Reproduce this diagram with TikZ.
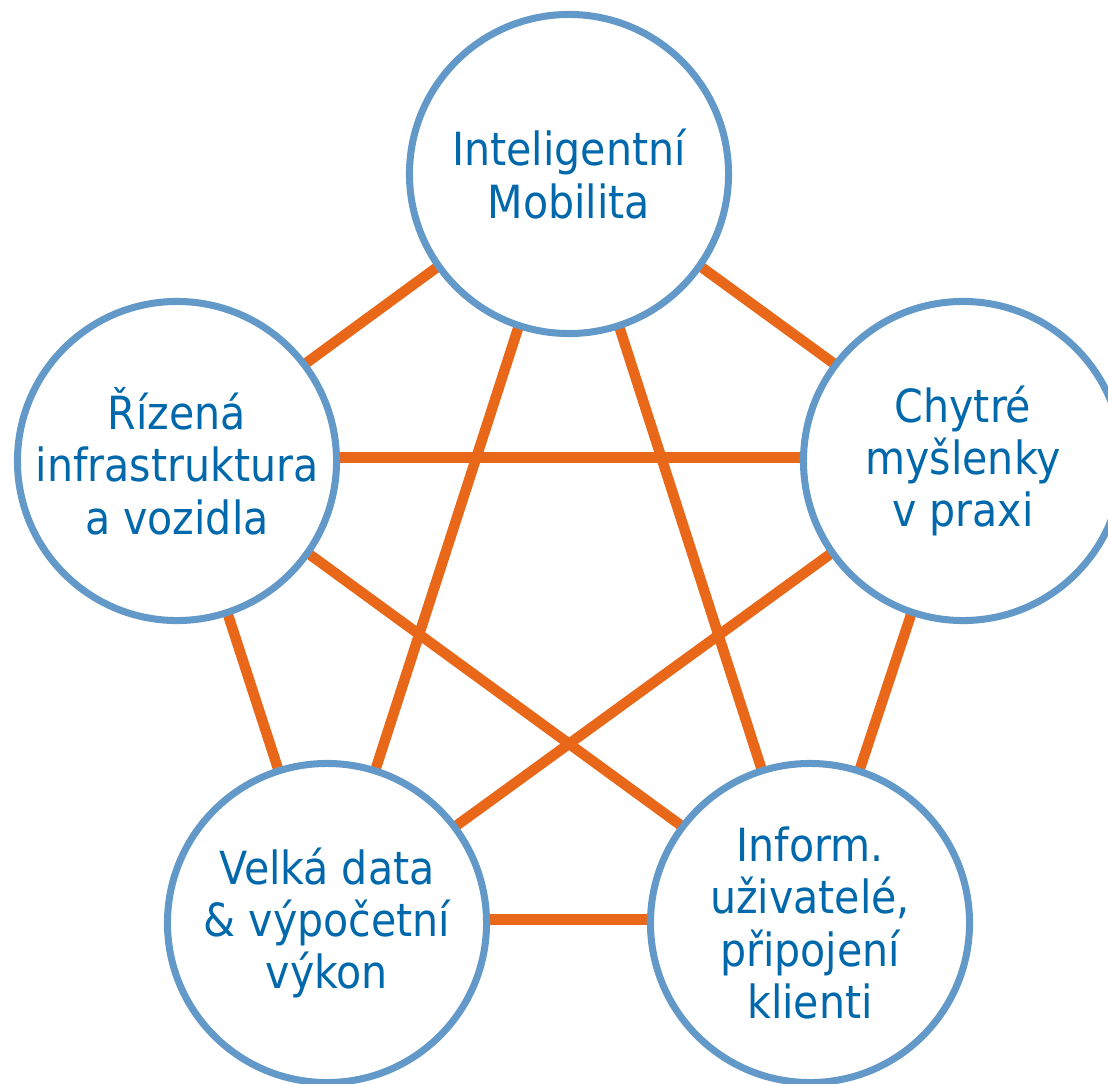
\documentclass[tikz,border=0pt]{standalone}
\usepackage{fontspec}
\setmainfont{DejaVu Sans Condensed}
\usetikzlibrary{backgrounds}
\definecolor{ringblue}{RGB}{99,153,200}
\definecolor{textblue}{RGB}{0,104,171}
\definecolor{linkorange}{RGB}{233,103,24}
\tikzset{
	topic/.style={circle,draw=ringblue,line width=5pt,fill=white,text=textblue,
		minimum size=7.975cm,inner sep=0pt,align=center,
		font={\fontsize{32.5pt}{37.3pt}\selectfont}},
	link/.style={linkorange,line width=7.4pt}
}
\begin{document}
\begin{tikzpicture}[x=0.025cm,y=-0.025cm]
	\useasboundingbox (0,0) rectangle (1108,1083);
	\node[topic] (mob) at (569,174) {Inteligentní\\Mobilita};
	\node[topic] (inf) at (177,461) {Řízená\\infrastruktura\\a vozidla};
	\node[topic] (ide) at (963,461) {Chytré\\myšlenky\\v praxi};
	\node[topic] (dat) at (327,923) {Velká data\\\& výpočetní\\výkon};
	\node[topic] (usr) at (810,923) {Inform.\\uživatelé,\\připojení\\klienti};
	\begin{scope}[on background layer]
	\foreach \p/\q in {mob/inf,mob/ide,mob/dat,mob/usr,inf/ide,inf/dat,inf/usr,ide/dat,ide/usr,dat/usr}
		\draw[link] ([yshift=2.4pt]\p.center)--([yshift=2.4pt]\q.center);
	\end{scope}
\end{tikzpicture}
\end{document}
